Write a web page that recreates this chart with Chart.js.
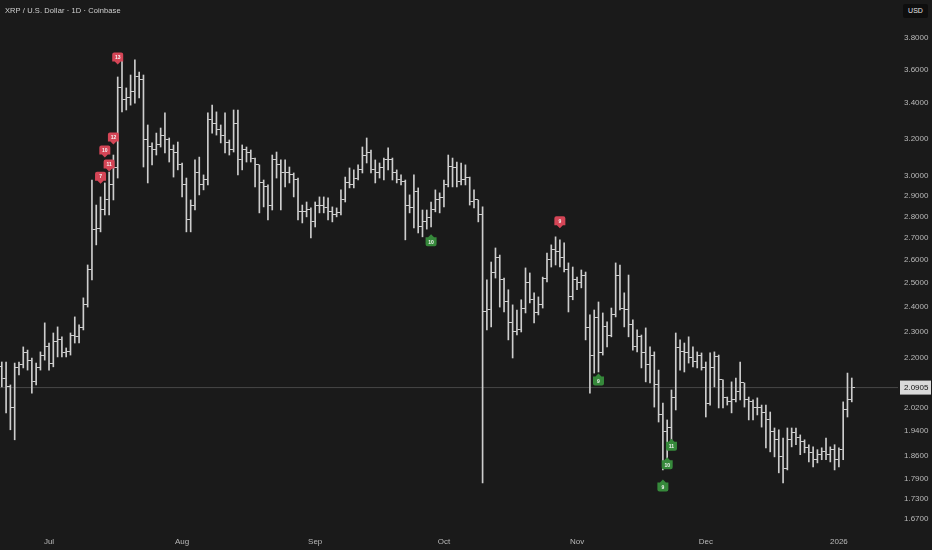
<!DOCTYPE html>
<html>
<head>
<meta charset="utf-8">
<title>XRP / U.S. Dollar · 1D</title>
<script src="https://cdn.jsdelivr.net/npm/chart.js@4.4.1/dist/chart.umd.min.js"></script>
<style>
  html, body { margin: 0; padding: 0; background: #1a1a1a; }
  #wrap { position: relative; width: 932px; height: 550px; overflow: hidden; }
  #title {
    position: absolute; left: 5px; top: 6px;
    font: 7.5px "Liberation Sans", Arial, sans-serif; color: #d0d0d0; letter-spacing: 0.1px;
  }
  #usd {
    position: absolute; left: 903px; top: 4px; width: 25px; height: 14px;
    background: #0e0e0e; border-radius: 2px;
    font: 7px "Liberation Sans", Arial, sans-serif; color: #e6e6e6;
    text-align: center; line-height: 14px;
  }
</style>
</head>
<body>
<div id="wrap">
  <canvas id="chart" width="932" height="550"></canvas>
  <div id="title">XRP / U.S. Dollar · 1D · Coinbase</div>
  <div id="usd">USD</div>
</div>
<script>
// =================== DATA ===================
// one bar per day, first bar = 2025-06-20, last bar = 2026-01-04
const monthTickDays = [11, 42, 73, 103, 134, 164, 195];
const monthTickLabels = ["Jul", "Aug", "Sep", "Oct", "Nov", "Dec", "2026"];
const priceTicks = [3.8, 3.6, 3.4, 3.2, 3.0, 2.9, 2.8, 2.7, 2.6, 2.5, 2.4, 2.3, 2.2, 2.02, 1.94, 1.86, 1.79, 1.73, 1.67];

const opens = [
  2.166, 2.125, 2.093, 2.022, 2.162, 2.173, 2.218, 2.191, 2.111, 2.162,
  2.210, 2.241, 2.180, 2.260, 2.268, 2.218, 2.222, 2.287, 2.280, 2.315,
  2.408, 2.556, 2.737, 2.746, 2.832, 2.881, 2.956, 3.043, 3.489, 3.418,
  3.430, 3.465, 3.555, 3.537, 3.192, 3.154, 3.138, 3.165, 3.219, 3.192,
  3.138, 3.127, 3.059, 2.956, 2.784, 2.856, 3.022, 2.956, 2.981, 3.303,
  3.286, 3.247, 3.219, 3.176, 3.138, 3.286, 3.085, 3.138, 3.127, 3.095,
  3.059, 2.966, 2.946, 2.856, 3.085, 3.059, 3.022, 3.022, 3.007, 2.981,
  2.823, 2.823, 2.832, 2.775, 2.856, 2.856, 2.842, 2.823, 2.808, 2.818,
  2.881, 2.966, 2.956, 2.991, 3.033, 3.111, 3.122, 3.033, 3.017, 3.043,
  3.085, 3.085, 3.022, 2.981, 2.971, 2.856, 2.842, 2.921, 2.751, 2.775,
  2.794, 2.832, 2.881, 2.891, 2.956, 3.048, 3.043, 2.971, 2.981, 2.996,
  2.871, 2.881, 2.808, 2.379, 2.387, 2.543, 2.613, 2.513, 2.420, 2.335,
  2.299, 2.307, 2.395, 2.500, 2.429, 2.375, 2.408, 2.521, 2.600, 2.645,
  2.636, 2.613, 2.556, 2.441, 2.513, 2.500, 2.534, 2.315, 2.210, 2.355,
  2.218, 2.319, 2.287, 2.367, 2.534, 2.395, 2.387, 2.327, 2.241, 2.280,
  2.218, 2.173, 2.210, 2.100, 1.995, 1.938, 1.954, 2.054, 2.237, 2.222,
  2.218, 2.199, 2.184, 2.210, 2.162, 2.036, 2.162, 2.203, 2.118, 2.054,
  2.040, 2.047, 2.075, 2.107, 2.047, 2.040, 2.022, 2.019, 2.005, 1.978,
  1.938, 1.912, 1.857, 1.822, 1.912, 1.935, 1.921, 1.905, 1.886, 1.870,
  1.848, 1.864, 1.873, 1.864, 1.880, 1.848, 1.880, 2.012, 2.047
];
const highs = [
  2.184, 2.184, 2.100, 2.180, 2.184, 2.241, 2.229, 2.199, 2.180, 2.222,
  2.335, 2.256, 2.295, 2.319, 2.280, 2.237, 2.295, 2.359, 2.327, 2.437,
  2.578, 2.981, 2.856, 2.896, 2.966, 3.022, 3.111, 3.555, 3.678, 3.489,
  3.567, 3.660, 3.585, 3.567, 3.275, 3.176, 3.230, 3.258, 3.343, 3.203,
  3.165, 3.181, 3.069, 2.991, 2.881, 3.085, 3.100, 3.007, 3.343, 3.388,
  3.349, 3.275, 3.343, 3.192, 3.360, 3.360, 3.165, 3.154, 3.138, 3.095,
  3.059, 2.981, 2.956, 3.111, 3.127, 3.085, 3.085, 3.048, 3.017, 2.991,
  2.856, 2.871, 2.842, 2.871, 2.896, 2.896, 2.891, 2.847, 2.842, 2.931,
  2.996, 3.043, 3.033, 3.059, 3.154, 3.203, 3.138, 3.085, 3.069, 3.095,
  3.149, 3.095, 3.033, 3.007, 2.981, 2.906, 3.007, 2.941, 2.832, 2.832,
  2.871, 2.931, 2.916, 2.981, 3.111, 3.095, 3.074, 3.069, 3.059, 2.996,
  2.931, 2.881, 2.847, 2.513, 2.591, 2.654, 2.622, 2.521, 2.471, 2.408,
  2.387, 2.429, 2.565, 2.543, 2.458, 2.441, 2.525, 2.631, 2.668, 2.705,
  2.691, 2.677, 2.587, 2.569, 2.525, 2.556, 2.547, 2.367, 2.387, 2.420,
  2.375, 2.339, 2.395, 2.587, 2.578, 2.458, 2.534, 2.347, 2.307, 2.287,
  2.315, 2.241, 2.222, 2.154, 2.036, 1.978, 2.082, 2.295, 2.268, 2.256,
  2.280, 2.241, 2.222, 2.218, 2.184, 2.218, 2.222, 2.210, 2.118, 2.057,
  2.111, 2.125, 2.184, 2.107, 2.057, 2.047, 2.054, 2.029, 2.029, 2.005,
  1.951, 1.945, 1.918, 1.951, 1.951, 1.951, 1.928, 1.912, 1.896, 1.889,
  1.880, 1.886, 1.918, 1.889, 1.896, 1.886, 2.040, 2.143, 2.125
];
const lows = [
  2.093, 2.002, 1.945, 1.912, 2.136, 2.162, 2.154, 2.071, 2.100, 2.154,
  2.191, 2.154, 2.166, 2.203, 2.203, 2.203, 2.210, 2.256, 2.256, 2.307,
  2.399, 2.513, 2.668, 2.728, 2.808, 2.808, 2.881, 2.991, 3.349, 3.360,
  3.388, 3.400, 3.430, 3.048, 2.966, 3.059, 3.111, 3.154, 3.122, 3.074,
  2.996, 3.033, 2.896, 2.728, 2.728, 2.832, 2.906, 2.931, 2.956, 3.230,
  3.219, 3.176, 3.122, 3.111, 3.127, 3.007, 3.033, 3.074, 3.074, 2.946,
  2.818, 2.847, 2.784, 2.832, 2.991, 2.832, 2.946, 2.966, 2.896, 2.784,
  2.770, 2.799, 2.700, 2.751, 2.818, 2.818, 2.784, 2.775, 2.799, 2.808,
  2.871, 2.941, 2.941, 2.981, 3.017, 3.069, 3.017, 2.966, 2.991, 2.981,
  3.033, 2.981, 2.966, 2.956, 2.691, 2.818, 2.746, 2.723, 2.705, 2.741,
  2.751, 2.823, 2.818, 2.847, 2.946, 2.946, 2.946, 2.956, 2.956, 2.856,
  2.842, 2.775, 1.776, 2.307, 2.319, 2.521, 2.399, 2.379, 2.268, 2.199,
  2.287, 2.299, 2.375, 2.416, 2.335, 2.367, 2.395, 2.504, 2.569, 2.578,
  2.569, 2.547, 2.379, 2.429, 2.471, 2.479, 2.268, 2.071, 2.143, 2.147,
  2.210, 2.241, 2.280, 2.359, 2.387, 2.319, 2.280, 2.229, 2.222, 2.162,
  2.111, 2.107, 2.022, 1.971, 1.816, 1.841, 1.912, 2.012, 2.154, 2.147,
  2.180, 2.166, 2.162, 2.154, 1.988, 2.029, 2.093, 2.019, 2.019, 2.029,
  2.002, 2.040, 2.047, 2.022, 1.978, 1.978, 1.995, 1.954, 1.886, 1.873,
  1.857, 1.807, 1.776, 1.816, 1.889, 1.896, 1.864, 1.870, 1.841, 1.825,
  1.838, 1.848, 1.848, 1.841, 1.816, 1.825, 1.848, 1.988, 2.040
];
const closes = [
  2.125, 2.093, 2.022, 2.162, 2.173, 2.218, 2.191, 2.111, 2.162, 2.210,
  2.241, 2.180, 2.260, 2.268, 2.218, 2.222, 2.287, 2.280, 2.315, 2.408,
  2.556, 2.737, 2.746, 2.832, 2.881, 2.956, 3.043, 3.489, 3.418, 3.430,
  3.465, 3.555, 3.537, 3.192, 3.154, 3.138, 3.165, 3.219, 3.192, 3.138,
  3.127, 3.059, 2.956, 2.784, 2.856, 3.022, 2.956, 2.981, 3.303, 3.286,
  3.247, 3.219, 3.176, 3.138, 3.286, 3.085, 3.138, 3.127, 3.095, 3.059,
  2.966, 2.946, 2.856, 3.085, 3.059, 3.022, 3.022, 3.007, 2.981, 2.823,
  2.823, 2.832, 2.775, 2.856, 2.856, 2.842, 2.823, 2.808, 2.818, 2.881,
  2.966, 2.956, 2.991, 3.033, 3.111, 3.122, 3.033, 3.017, 3.043, 3.085,
  3.085, 3.022, 2.981, 2.971, 2.856, 2.842, 2.921, 2.751, 2.775, 2.794,
  2.832, 2.881, 2.891, 2.956, 3.048, 3.043, 2.971, 2.981, 2.996, 2.871,
  2.881, 2.808, 2.379, 2.387, 2.543, 2.613, 2.513, 2.420, 2.335, 2.299,
  2.307, 2.395, 2.500, 2.429, 2.375, 2.408, 2.521, 2.600, 2.645, 2.636,
  2.613, 2.556, 2.441, 2.513, 2.500, 2.534, 2.315, 2.210, 2.355, 2.218,
  2.319, 2.287, 2.367, 2.534, 2.395, 2.387, 2.327, 2.241, 2.280, 2.218,
  2.173, 2.210, 2.100, 1.995, 1.938, 1.954, 2.054, 2.237, 2.222, 2.218,
  2.199, 2.184, 2.210, 2.162, 2.036, 2.162, 2.203, 2.118, 2.054, 2.040,
  2.047, 2.075, 2.107, 2.047, 2.040, 2.022, 2.019, 2.005, 1.978, 1.938,
  1.912, 1.857, 1.822, 1.912, 1.935, 1.921, 1.905, 1.886, 1.870, 1.848,
  1.864, 1.873, 1.864, 1.880, 1.848, 1.880, 2.012, 2.047, 2.0905
];
const lastPrice = 2.0905;

// counter flags: day index, price level of the flag, number shown
const sellDays = [23, 24, 25, 26, 27, 130];
const sellLevels = [3.000, 3.138, 3.064, 3.208, 3.678, 2.780];
const sellCounts = ["7", "10", "11", "12", "13", "9"];
const buyDays = [100, 139, 154, 155, 156];
const buyLevels = [2.682, 2.114, 1.764, 1.832, 1.891];
const buyCounts = ["10", "9", "9", "10", "11"];

// =================== STYLE ===================
const BAR_COLOR = "#cdcdcd";
const AXIS_TEXT = "#b9b9b9";
const FONT = "'Liberation Sans', Arial, sans-serif";

// open tick sits left of the bar, close tick right of it
function tickImage(side) {
  const c = document.createElement("canvas");
  c.width = 7;
  c.height = 1;
  const g = c.getContext("2d");
  g.fillStyle = BAR_COLOR;
  g.fillRect(side === "left" ? 0 : 4, 0, 3, 1);
  return c;
}

function drawFlags(ctx, xs, ys, days, levels, labels, color, dir) {
  const w = 11, h = 9, tip = 3;
  days.forEach((d, i) => {
    const cx = xs.getPixelForValue(d);
    const cy = ys.getPixelForValue(levels[i]);
    const top = cy - h / 2, bot = cy + h / 2, l = cx - w / 2, r = cx + w / 2;
    ctx.save();
    ctx.fillStyle = color;
    ctx.beginPath();
    if (dir < 0) {
      // pointing down (above the bar)
      ctx.moveTo(l + 2, top);
      ctx.lineTo(r - 2, top);
      ctx.quadraticCurveTo(r, top, r, top + 2);
      ctx.lineTo(r, bot);
      ctx.lineTo(cx + tip, bot);
      ctx.lineTo(cx, bot + tip);
      ctx.lineTo(cx - tip, bot);
      ctx.lineTo(l, bot);
      ctx.lineTo(l, top + 2);
      ctx.quadraticCurveTo(l, top, l + 2, top);
    } else {
      // pointing up (below the bar)
      ctx.moveTo(l, top);
      ctx.lineTo(cx - tip, top);
      ctx.lineTo(cx, top - tip);
      ctx.lineTo(cx + tip, top);
      ctx.lineTo(r, top);
      ctx.lineTo(r, bot - 2);
      ctx.quadraticCurveTo(r, bot, r - 2, bot);
      ctx.lineTo(l + 2, bot);
      ctx.quadraticCurveTo(l, bot, l, bot - 2);
    }
    ctx.closePath();
    ctx.fill();
    ctx.fillStyle = "#f4f4f4";
    ctx.font = "bold 5px " + FONT;
    ctx.textAlign = "center";
    ctx.textBaseline = "middle";
    ctx.fillText(labels[i], cx, cy + 0.5);
    ctx.restore();
  });
}

const overlay = {
  id: "overlay",
  afterDatasetsDraw(chart) {
    const { ctx, scales } = chart;
    drawFlags(ctx, scales.x, scales.y, sellDays, sellLevels, sellCounts, "#d44556", -1);
    drawFlags(ctx, scales.x, scales.y, buyDays, buyLevels, buyCounts, "#36893b", 1);
  },
  afterDraw(chart) {
    // last price tag on the price axis
    const { ctx, chartArea, scales } = chart;
    const py = scales.y.getPixelForValue(lastPrice);
    ctx.save();
    ctx.fillStyle = "#d9d9d9";
    ctx.fillRect(chartArea.right + 2, py - 7, 31, 14);
    ctx.fillStyle = "#111111";
    ctx.font = "8px " + FONT;
    ctx.textAlign = "left";
    ctx.textBaseline = "middle";
    ctx.fillText(lastPrice.toFixed(4), chartArea.right + 6, py + 0.5);
    ctx.restore();
  }
};

// axis label overflow must not shrink the plot
function noPad(axis) {
  axis.paddingTop = 0;
  axis.paddingBottom = 0;
  axis.paddingLeft = 0;
  axis.paddingRight = 0;
}

// =================== CHART ===================
new Chart(document.getElementById("chart"), {
  type: "bar",
  data: {
    datasets: [
      {
        type: "bar",
        data: highs.map((h, i) => ({ x: i, y: [lows[i], h] })),
        backgroundColor: BAR_COLOR,
        borderWidth: 0,
        barThickness: 1,
        order: 3
      },
      {
        type: "line",
        data: opens.map((o, i) => ({ x: i, y: o })),
        showLine: false,
        pointStyle: tickImage("left"),
        pointRadius: 3,
        pointHoverRadius: 3,
        order: 2
      },
      {
        type: "line",
        data: closes.map((c, i) => ({ x: i, y: c })),
        showLine: false,
        pointStyle: tickImage("right"),
        pointRadius: 3,
        pointHoverRadius: 3,
        order: 1
      },
      {
        type: "line",
        data: [{ x: -1, y: lastPrice }, { x: 210, y: lastPrice }],
        borderColor: "#474747",
        borderWidth: 1,
        pointRadius: 0,
        order: 10
      }
    ]
  },
  options: {
    responsive: false,
    animation: false,
    events: [],
    layout: { padding: 0, autoPadding: false },
    plugins: {
      legend: { display: false },
      tooltip: { enabled: false }
    },
    scales: {
      x: {
        type: "linear",
        offset: false,
        bounds: "data",
        min: -0.42,
        max: 208.77,
        grid: { display: false, drawTicks: false },
        border: { display: false },
        afterBuildTicks: (axis) => { axis.ticks = monthTickDays.map((v) => ({ value: v })); },
        afterFit: (axis) => { axis.height = 22; noPad(axis); },
        ticks: {
          autoSkip: false,
          maxRotation: 0,
          padding: 9,
          color: AXIS_TEXT,
          font: { size: 8, family: FONT },
          callback: (v) => monthTickLabels[monthTickDays.indexOf(v)] || ""
        }
      },
      y: {
        type: "logarithmic",
        position: "right",
        offset: false,
        bounds: "data",
        min: 1.6444,
        max: 4.055,
        grid: { display: false, drawTicks: false },
        border: { display: false },
        afterBuildTicks: (axis) => { axis.ticks = priceTicks.map((v) => ({ value: v })); },
        afterFit: (axis) => { axis.width = 34; noPad(axis); },
        ticks: {
          autoSkip: false,
          padding: 6,
          color: AXIS_TEXT,
          font: { size: 8, family: FONT },
          callback: (v) => Number(v).toFixed(4)
        }
      }
    }
  },
  plugins: [overlay]
});
</script>
</body>
</html>
